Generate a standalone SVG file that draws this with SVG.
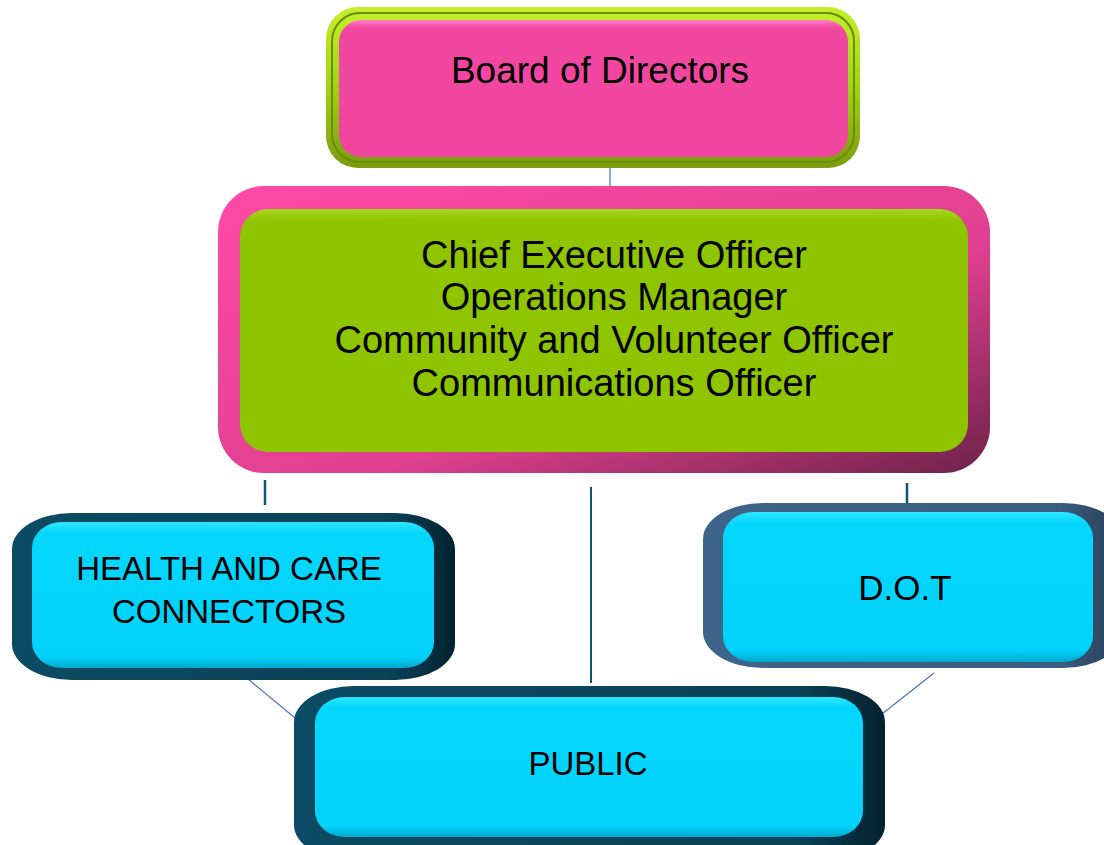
<svg xmlns="http://www.w3.org/2000/svg" width="1104" height="845" viewBox="0 0 1104 845">
<defs>
<linearGradient id="limeFrame" x1="0" y1="0" x2="0" y2="1">
<stop offset="0" stop-color="#c4ef2a"/>
<stop offset="0.5" stop-color="#a2d216"/>
<stop offset="1" stop-color="#7a9c0e"/>
</linearGradient>
<linearGradient id="pinkFill" x1="0" y1="0" x2="0" y2="1">
<stop offset="0" stop-color="#ff7cc6"/>
<stop offset="0.06" stop-color="#f247a0"/>
<stop offset="1" stop-color="#f046a0"/>
</linearGradient>
<linearGradient id="pinkFrame" x1="0" y1="0" x2="1" y2="1">
<stop offset="0" stop-color="#ff4aa8"/>
<stop offset="0.6" stop-color="#e0408f"/>
<stop offset="1" stop-color="#6d2248"/>
</linearGradient>
<linearGradient id="greenFill" x1="0" y1="0" x2="0" y2="1">
<stop offset="0" stop-color="#a8d820"/>
<stop offset="0.05" stop-color="#8fc400"/>
<stop offset="1" stop-color="#8fc400"/>
</linearGradient>
<linearGradient id="tealFrame" x1="0" y1="0" x2="1" y2="0">
<stop offset="0" stop-color="#0c4b63"/>
<stop offset="0.85" stop-color="#0a4258"/>
<stop offset="1" stop-color="#04222f"/>
</linearGradient>
<linearGradient id="slateFrame" x1="0" y1="0" x2="1" y2="0">
<stop offset="0" stop-color="#3e6488"/>
<stop offset="0.85" stop-color="#3a5d80"/>
<stop offset="1" stop-color="#263d55"/>
</linearGradient>
<linearGradient id="cyanFill" x1="0" y1="0" x2="0" y2="1">
<stop offset="0" stop-color="#2ee6ff"/>
<stop offset="0.08" stop-color="#05d6fe"/>
<stop offset="0.92" stop-color="#03d3fc"/>
<stop offset="1" stop-color="#02a8cc"/>
</linearGradient>
</defs>
<style>
text { font-family: "Liberation Sans", Arial, sans-serif; fill: #000; text-anchor: middle; }
.conn { fill: none; }
</style>
<rect width="1104" height="845" fill="#ffffff"/>

<g id="connectors">
<line class="conn" x1="610" y1="168" x2="610" y2="204" stroke="#4a74c0" stroke-width="1.2"/>
<line class="conn" x1="265" y1="480" x2="265" y2="505" stroke="#0c5572" stroke-width="2.5"/>
<line class="conn" x1="591" y1="487" x2="591" y2="683" stroke="#0c5572" stroke-width="2"/>
<line class="conn" x1="907" y1="483" x2="907" y2="504" stroke="#0c5572" stroke-width="2.5"/>
<line class="conn" x1="236" y1="669" x2="295" y2="718" stroke="#4a74c0" stroke-width="1.2"/>
<line class="conn" x1="934" y1="673" x2="882" y2="714" stroke="#4a74c0" stroke-width="1.2"/>
</g>

<g id="board">
<rect x="326" y="7" width="534" height="161" rx="32" ry="32" fill="url(#limeFrame)"/>
<rect x="332" y="13" width="522" height="149" rx="28" ry="28" fill="none" stroke="#6c8c0a" stroke-width="2"/>
<rect x="339" y="20" width="509" height="137" rx="22" ry="22" fill="url(#pinkFill)"/>
<text x="600" y="83" font-size="37">Board of Directors</text>
</g>

<g id="ceo">
<rect x="218" y="186" width="772" height="287" rx="46" ry="46" fill="url(#pinkFrame)"/>
<rect x="240" y="209" width="728" height="243" rx="28" ry="28" fill="url(#greenFill)"/>
<text x="614" y="268" font-size="38">Chief Executive Officer</text>
<text x="614" y="310" font-size="38">Operations Manager</text>
<text x="614" y="353" font-size="38">Community and Volunteer Officer</text>
<text x="614" y="396" font-size="38">Communications Officer</text>
</g>

<g id="health">
<rect x="12" y="513" width="443" height="167" rx="60" ry="36" fill="url(#tealFrame)"/>
<rect x="32" y="522" width="402" height="146" rx="30" ry="26" fill="url(#cyanFill)"/>
<text x="229" y="580" font-size="33">HEALTH AND CARE</text>
<text x="229" y="623" font-size="33">CONNECTORS</text>
</g>

<g id="dot">
<rect x="703" y="503" width="420" height="165" rx="60" ry="36" fill="url(#slateFrame)"/>
<rect x="723" y="512" width="370" height="150" rx="30" ry="26" fill="url(#cyanFill)"/>
<text x="905" y="600" font-size="35">D.O.T</text>
</g>

<g id="public">
<rect x="294" y="686" width="591" height="175" rx="60" ry="36" fill="url(#tealFrame)"/>
<rect x="315" y="697" width="548" height="140" rx="30" ry="26" fill="url(#cyanFill)"/>
<text x="588" y="775" font-size="33">PUBLIC</text>
</g>
</svg>
